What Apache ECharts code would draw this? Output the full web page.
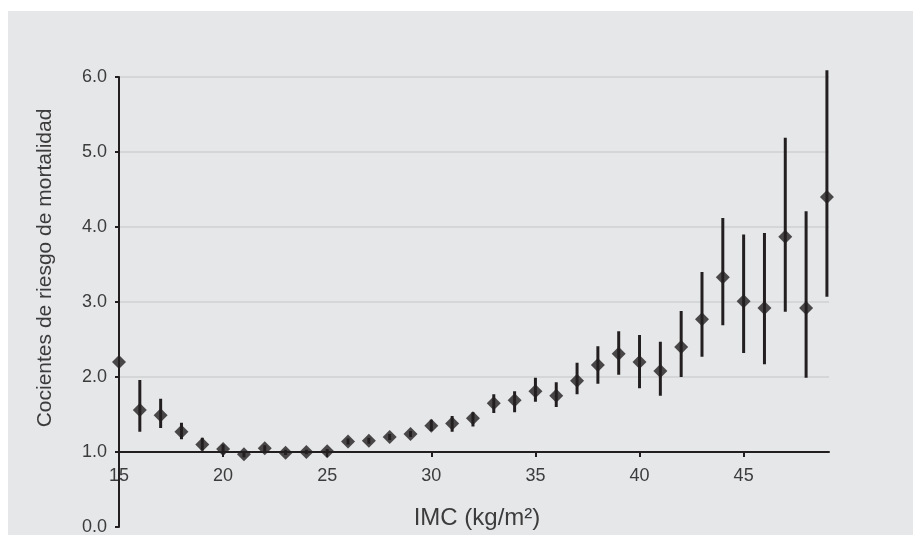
<!DOCTYPE html>
<html>
<head>
<meta charset="utf-8">
<script src="https://cdn.jsdelivr.net/npm/echarts@6/dist/echarts.min.js"></script>
<style>
html,body{margin:0;padding:0;background:#fff;}
#chart{width:913px;height:535px;}
</style>
</head>
<body>
<div id="chart"></div>
<script>
// BMI categories (kg/m²)
var bmi = [15,16,17,18,19,20,21,22,23,24,25,26,27,28,29,30,31,32,33,34,35,36,37,38,39,40,41,42,43,44,45,46,47,48,49];
// Hazard ratios
var hr = [2.2,1.56,1.49,1.27,1.10,1.04,0.97,1.05,0.99,1.0,1.01,1.14,1.15,1.2,1.24,1.35,1.38,1.45,1.65,1.69,1.81,1.75,1.95,2.16,2.31,2.2,2.08,2.4,2.77,3.33,3.01,2.92,3.87,2.92,4.4];
// Lower / upper confidence limits
var lower = [null,1.27,1.32,1.17,1.02,0.97,0.93,1.0,0.96,0.97,0.98,1.1,1.11,1.16,1.2,1.28,1.27,1.34,1.52,1.53,1.67,1.6,1.77,1.91,2.03,1.85,1.75,2.0,2.27,2.69,2.32,2.17,2.87,1.99,3.07];
var upper = [null,1.96,1.71,1.39,1.19,1.10,1.01,1.09,1.03,1.03,1.04,1.18,1.19,1.24,1.28,1.43,1.48,1.53,1.77,1.81,1.99,1.93,2.19,2.41,2.61,2.56,2.47,2.88,3.4,4.12,3.9,3.92,5.19,4.21,6.09];
// Axis ticks
var xTickLabels = [15,20,25,30,35,40,45];
var xTickMarks = [20,25,30,35,40,45];
var yTicks = [0,1,2,3,4,5,6];
var xAxisCrossValue = 1.0;

var points = bmi.map(function(b,i){return [b, hr[i]];});
var bars = [];
bmi.forEach(function(b,i){ if(lower[i]!=null) bars.push([b, lower[i], upper[i]]); });

var ink = '#231f20';
var txt = '#3c3c3c';
var gridTop = 77, gridBottom = 8, H = 535;
var plotH = H - gridTop - gridBottom;
var yMin = 0, yMax = 6;
var xOffset = -plotH * (xAxisCrossValue - yMin) / (yMax - yMin);

var chart = echarts.init(document.getElementById('chart'), null, {renderer:'canvas'});
chart.setOption({
  animation:false,
  backgroundColor:'#ffffff',
  textStyle:{fontFamily:'Liberation Sans, Arial, sans-serif'},
  graphic:[
    {type:'rect', z:-10, silent:true, shape:{x:8,y:11,width:905,height:524}, style:{fill:'#e6e7e9'}},
    {type:'text', x:45, y:268, rotation:Math.PI/2, style:{text:'Cocientes de riesgo de mortalidad', fill:txt, font:'21px "Liberation Sans", Arial, sans-serif', textAlign:'center', textVerticalAlign:'middle'}},
    {type:'text', x:477, y:518, style:{text:'IMC (kg/m²)', fill:txt, font:'24px "Liberation Sans", Arial, sans-serif', textAlign:'center', textVerticalAlign:'middle'}}
  ],
  grid:{left:119, right:84, top:gridTop, bottom:gridBottom, containLabel:false, outerBoundsMode:'none'},
  xAxis:{
    type:'value', min:15, max:49.1, interval:5, position:'bottom', offset:xOffset,
    axisLine:{show:true, onZero:false, lineStyle:{color:ink, width:2}},
    axisTick:{show:true, length:5, inside:false, customValues:xTickMarks, lineStyle:{color:ink, width:2}},
    axisLabel:{customValues:xTickLabels, margin:15, fontSize:18, color:txt, fontFamily:'Liberation Sans, Arial, sans-serif'},
    splitLine:{show:false}
  },
  yAxis:{
    type:'value', min:yMin, max:yMax, interval:1, position:'left',
    axisLine:{show:true, onZero:false, lineStyle:{color:ink, width:2}},
    axisTick:{show:true, length:4, customValues:yTicks, lineStyle:{color:ink, width:2}},
    axisLabel:{margin:12, fontSize:18, color:txt, fontFamily:'Liberation Sans, Arial, sans-serif',
      formatter:function(v){return v.toFixed(1);}},
    splitLine:{show:true, showMinLine:false, lineStyle:{color:'#cfd0d2', width:1.5}}
  },
  series:[
    {
      type:'custom', clip:false, z:2,
      data:bars,
      renderItem:function(params, api){
        var x = api.value(0);
        var p1 = api.coord([x, api.value(1)]);
        var p2 = api.coord([x, api.value(2)]);
        return {type:'line', shape:{x1:p1[0], y1:p1[1], x2:p2[0], y2:p2[1]}, style:{stroke:ink, lineWidth:3}};
      }
    },
    {
      type:'scatter', z:3, symbol:'diamond', symbolSize:[14,14],
      itemStyle:{color:ink},
      data:points
    }
  ]
});
</script>
</body>
</html>
